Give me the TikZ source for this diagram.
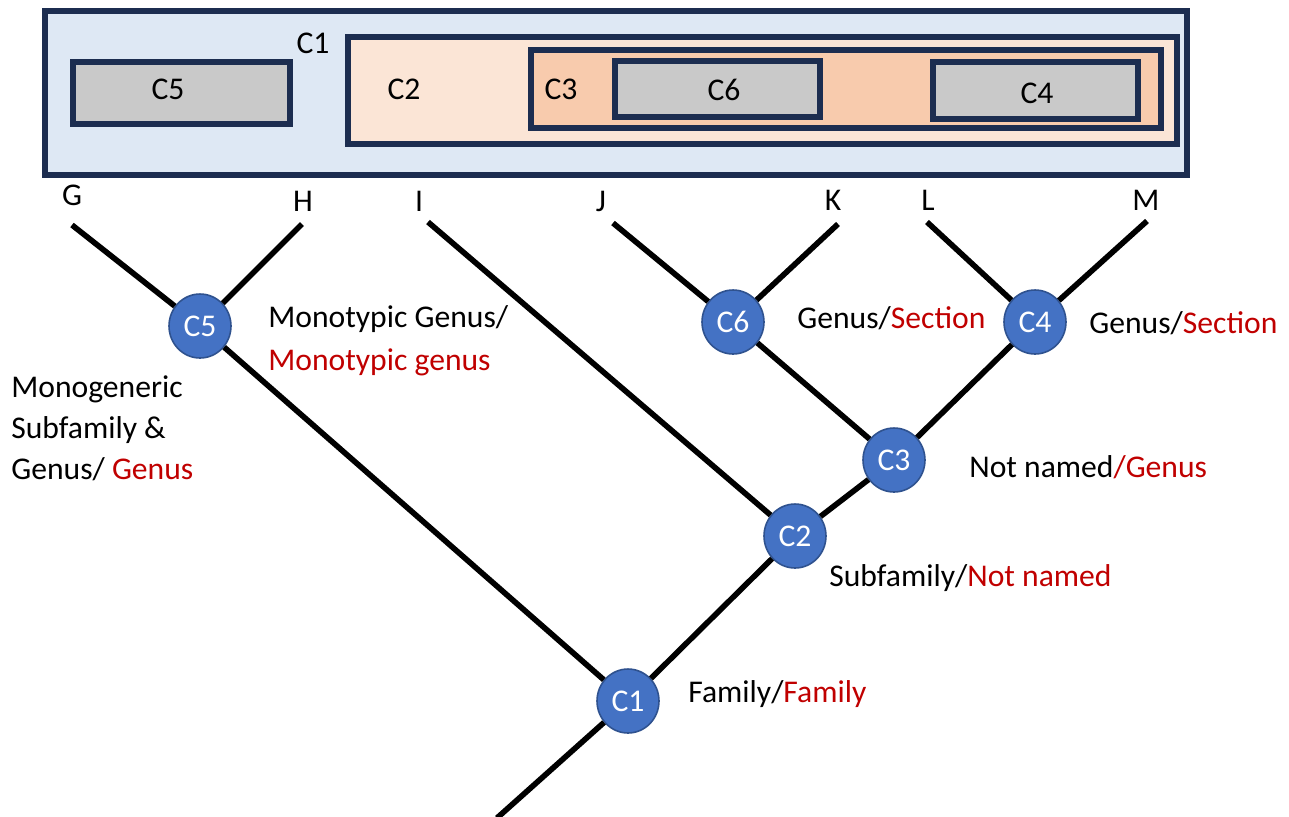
\documentclass[tikz,border=0pt]{standalone}
\usepackage{fontspec}
\setmainfont{Carlito}
\usepackage{tikz}
\usetikzlibrary{shapes.geometric, arrows}
\definecolor{navy}{HTML}{1C2D50}
\definecolor{outerblue}{HTML}{DEE8F4}
\definecolor{peach}{HTML}{FBE5D6}
\definecolor{apricot}{HTML}{F8CBAD}
\definecolor{boxgray}{HTML}{C9C9C9}
\definecolor{splitblue}{HTML}{4472C4}
\definecolor{splitedge}{HTML}{2F528F}
\definecolor{rankred}{HTML}{C00000}
\newcommand{\newname}[1]{\textcolor{rankred}{#1}}
\tikzstyle{clade} = [draw=navy, line width=3pt]
\tikzstyle{split} = [ellipse, minimum width=1.24cm, minimum height=1.28cm, inner sep=0pt, text=white, draw=splitedge, fill=splitblue, line width=0.9pt]
\tikzstyle{branch} = [line width=3.2pt, black]
\tikzstyle{rank} = [anchor=west, align=left, inner sep=0pt]
\tikzstyle{tag} = [inner sep=0pt]

\begin{document}
\begin{tikzpicture}[x=0.02cm, y=-0.02cm, font=\fontsize{18}{23.3}\selectfont]
	\useasboundingbox (0,0) rectangle (1289,816);

	% nested clades
	\draw [clade, fill=outerblue] (45,11) rectangle (1187,175);
	\draw [clade, fill=boxgray] (73,62) rectangle (290,124);
	\draw [clade, fill=peach] (348,37) rectangle (1177,144);
	\draw [clade, fill=apricot] (531,50) rectangle (1161,128);
	\draw [clade, fill=boxgray] (615,61) rectangle (820,117);
	\draw [clade, fill=boxgray] (933,62) rectangle (1138,119);

	\node (boxc1) [tag] at (313,43) {C1};
	\node (boxc5) [tag] at (168,89) {C5};
	\node (boxc2) [tag] at (404,89) {C2};
	\node (boxc3) [tag] at (561,89) {C3};
	\node (boxc6) [tag] at (724,90) {C6};
	\node (boxc4) [tag] at (1037,93) {C4};

	% tree
	\node (g) [tag] at (72,195) {G};
	\node (h) [tag] at (303,201) {H};
	\node (i) [tag] at (419,201) {I};
	\node (j) [tag] at (601,201) {J};
	\node (k) [tag] at (833,200) {K};
	\node (l) [tag] at (928,200) {L};
	\node (m) [tag] at (1146,200) {M};

	\coordinate (tipg) at (72,225);
	\coordinate (tiph) at (302,224);
	\coordinate (tipi) at (428,222);
	\coordinate (tipj) at (613,223);
	\coordinate (tipk) at (838,224);
	\coordinate (tipl) at (927,222);
	\coordinate (tipm) at (1147,221);
	\coordinate (root) at (497,818);

	\node (c1) [split] at (628,701) {C1};
	\node (c2) [split] at (795,536) {C2};
	\node (c3) [split] at (894,460) {C3};
	\node (c4) [split] at (1035,322) {C4};
	\node (c5) [split] at (200,326) {C5};
	\node (c6) [split] at (733,322) {C6};

	\draw [branch] (tipg) -- (c5);
	\draw [branch] (tiph) -- (c5);
	\draw [branch] (tipi) -- (c2);
	\draw [branch] (tipj) -- (c6);
	\draw [branch] (tipk) -- (c6);
	\draw [branch] (tipl) -- (c4);
	\draw [branch] (tipm) -- (c4);
	\draw [branch] (c6) -- (c3);
	\draw [branch] (c4) -- (c3);
	\draw [branch] (c3) -- (c2);
	\draw [branch] (c2) -- (c1);
	\draw [branch] (c5) -- (c1);
	\draw [branch] (c1) -- (root);

	% ranks
	\node (rankc5) [rank] at (11,428) {Monogeneric\\Subfamily \&\\Genus/ \newname{Genus}};
	\node (rankh) [rank] at (268,341) {Monotypic Genus/\\[1pt]\newname{Monotypic genus}};
	\node (rankc6) [rank] at (797,318) {Genus/\newname{Section}};
	\node (rankc4) [rank] at (1089,323) {Genus/\newname{Section}};
	\node (rankc3) [rank] at (969,467) {Not named\newname{/Genus}};
	\node (rankc2) [rank] at (829,578) {Subfamily/\newname{Not named}};
	\node (rankc1) [rank] at (688,694) {Family/\newname{Family}};

\end{tikzpicture}
\end{document}
